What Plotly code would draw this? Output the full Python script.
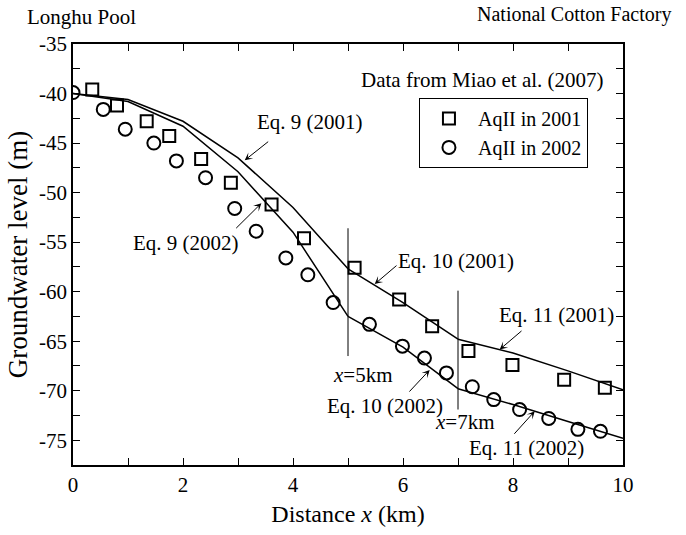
import plotly.graph_objects as go

# Measured data (Miao et al. 2007)
x_2001 = [0.35, 0.80, 1.34, 1.75, 2.33, 2.87, 3.61, 4.20, 5.12, 5.93, 6.53, 7.19, 7.99, 8.93, 9.67]
y_2001 = [-39.6, -41.2, -42.8, -44.3, -46.6, -49.0, -51.2, -54.6, -57.6, -60.8, -63.5, -66.0, -67.4, -68.9, -69.7]

x_2002 = [0.0, 0.55, 0.95, 1.47, 1.88, 2.41, 2.94, 3.33, 3.87, 4.27, 4.73, 5.39, 5.99, 6.39, 6.79, 7.26, 7.65, 8.12, 8.65, 9.18, 9.59]
y_2002 = [-39.9, -41.6, -43.6, -45.0, -46.8, -48.5, -51.6, -53.9, -56.6, -58.3, -61.1, -63.3, -65.5, -66.7, -68.2, -69.6, -70.9, -71.9, -72.8, -73.9, -74.1]

# Model curves
eq9_x = [0, 1, 2, 3, 4, 5]
eq9_2001 = [-40.0, -40.6, -42.8, -46.5, -51.5, -57.7]
eq9_2002 = [-40.0, -40.8, -43.3, -47.9, -54.0, -62.5]
eq10_x = [5, 6, 7]
eq10_2001 = [-57.7, -61.1, -64.8]
eq10_2002 = [-62.5, -65.6, -69.8]
eq11_x = [7, 8, 9, 10]
eq11_2001 = [-64.8, -66.2, -68.0, -69.9]
eq11_2002 = [-69.8, -71.4, -73.1, -74.8]

# Boundary markers
bound5_x = [5, 5]
bound5_y = [-53.6, -66.5]
bound7_x = [7, 7]
bound7_y = [-59.9, -71.9]

x_ticks = [0, 2, 4, 6, 8, 10]
y_ticks = [-75, -70, -65, -60, -55, -50, -45, -40, -35]

FONT = "Liberation Serif, Times New Roman, serif"

fig = go.Figure()

line_style = dict(color="black", width=1.5)
for xs, ys in [(eq9_x, eq9_2001), (eq9_x, eq9_2002), (eq10_x, eq10_2001), (eq10_x, eq10_2002),
               (eq11_x, eq11_2001), (eq11_x, eq11_2002)]:
    fig.add_trace(go.Scatter(x=xs, y=ys, mode="lines", line=line_style, showlegend=False, hoverinfo="skip"))

for xs, ys in [(bound5_x, bound5_y), (bound7_x, bound7_y)]:
    fig.add_trace(go.Scatter(x=xs, y=ys, mode="lines", line=dict(color="black", width=1), showlegend=False, hoverinfo="skip"))

fig.add_trace(go.Scatter(x=x_2001, y=y_2001, mode="markers", name="AqII in 2001",
                         marker=dict(symbol="square-open", size=12, color="black", line=dict(width=2, color="black"))))
fig.add_trace(go.Scatter(x=x_2002, y=y_2002, mode="markers", name="AqII in 2002",
                         marker=dict(symbol="circle-open", size=13, color="black", line=dict(width=2, color="black"))))

ann = []
def text(x, y, t, xanchor="center", xref="x", yref="y", size=21):
    ann.append(dict(x=x, y=y, xref=xref, yref=yref, text=t, showarrow=False, xanchor=xanchor, yanchor="middle",
                    font=dict(family=FONT, size=size, color="black")))

def arrow(x0, y0, x1, y1):
    ann.append(dict(x=x1, y=y1, ax=x0, ay=y0, xref="x", yref="y", axref="x", ayref="y", text="",
                    showarrow=True, arrowhead=3, arrowsize=1.3, arrowwidth=1, arrowcolor="black", standoff=0, startstandoff=0))

text(4.304, -42.87, "Eq. 9 (2001)")
arrow(3.576, -44.74, 3.122, -46.74)
text(2.062, -55.07, "Eq. 9 (2002)")
arrow(2.940, -53.74, 3.425, -51.07)
text(6.971, -56.9, "Eq. 10 (2001)")
arrow(5.909, -57.24, 5.485, -59.24)
text(5.667, -71.57, "Eq. 10 (2002)")
arrow(6.091, -70.24, 6.485, -67.9)
text(8.789, -62.4, "Eq. 11 (2001)")
arrow(8.182, -63.84, 7.758, -65.84)
text(8.244, -75.74, "Eq. 11 (2002)")
arrow(8.0, -74.5, 8.395, -72.07)
text(5.273, -68.4, "<i>x</i>=5km")
text(7.122, -73.17, "<i>x</i>=7km")
text(9.685, -38.67, "Data from Miao et al. (2007)", xanchor="right")

# Panel end labels above the plot (paper coords relative to plot area: 550 x 423 px)
text((25 - 73.3) / 550, 1 + (44.3 - 17) / 423, "Longhu Pool", xanchor="left", xref="paper", yref="paper")
text((673 - 73.3) / 550, 1 + (44.3 - 15) / 423, "National Cotton Factory", xanchor="right", xref="paper", yref="paper", size=20)

fig.update_layout(
    annotations=ann,
    width=686, height=535,
    margin=dict(l=73, r=63, t=44, b=68),
    plot_bgcolor="white", paper_bgcolor="white",
    font=dict(family=FONT, size=21, color="black"),
    showlegend=True,
    legend=dict(x=0.629, y=0.872, xanchor="left", yanchor="top", bordercolor="black", borderwidth=1,
                bgcolor="white", font=dict(family=FONT, size=20), itemwidth=48, tracegroupgap=0),
    xaxis=dict(range=[0, 10], tickvals=x_ticks, ticktext=[str(v) for v in x_ticks],
               ticks="inside", ticklen=7, tickwidth=1, tickcolor="black",
               showline=True, linecolor="black", linewidth=1.5, mirror="ticks", showgrid=False, zeroline=False,
               minor=dict(dtick=1, ticks="inside", ticklen=7, tickwidth=1, tickcolor="black", showgrid=False),
               tickfont=dict(family=FONT, size=21),
               title=dict(text="Distance <i>x</i> (km)", font=dict(family=FONT, size=24), standoff=9)),
    yaxis=dict(range=[-77.5, -35], tickvals=y_ticks, ticktext=[str(v) for v in y_ticks],
               ticks="inside", ticklen=7, tickwidth=1, tickcolor="black",
               showline=True, linecolor="black", linewidth=1.5, mirror="ticks", showgrid=False, zeroline=False,
               minor=dict(dtick=2.5, tick0=-35, ticks="inside", ticklen=7, tickwidth=1, tickcolor="black", showgrid=False),
               tickfont=dict(family=FONT, size=21),
               title=dict(text="Groundwater level (m)", font=dict(family=FONT, size=27), standoff=4)),
)

fig.write_html("out.html")
